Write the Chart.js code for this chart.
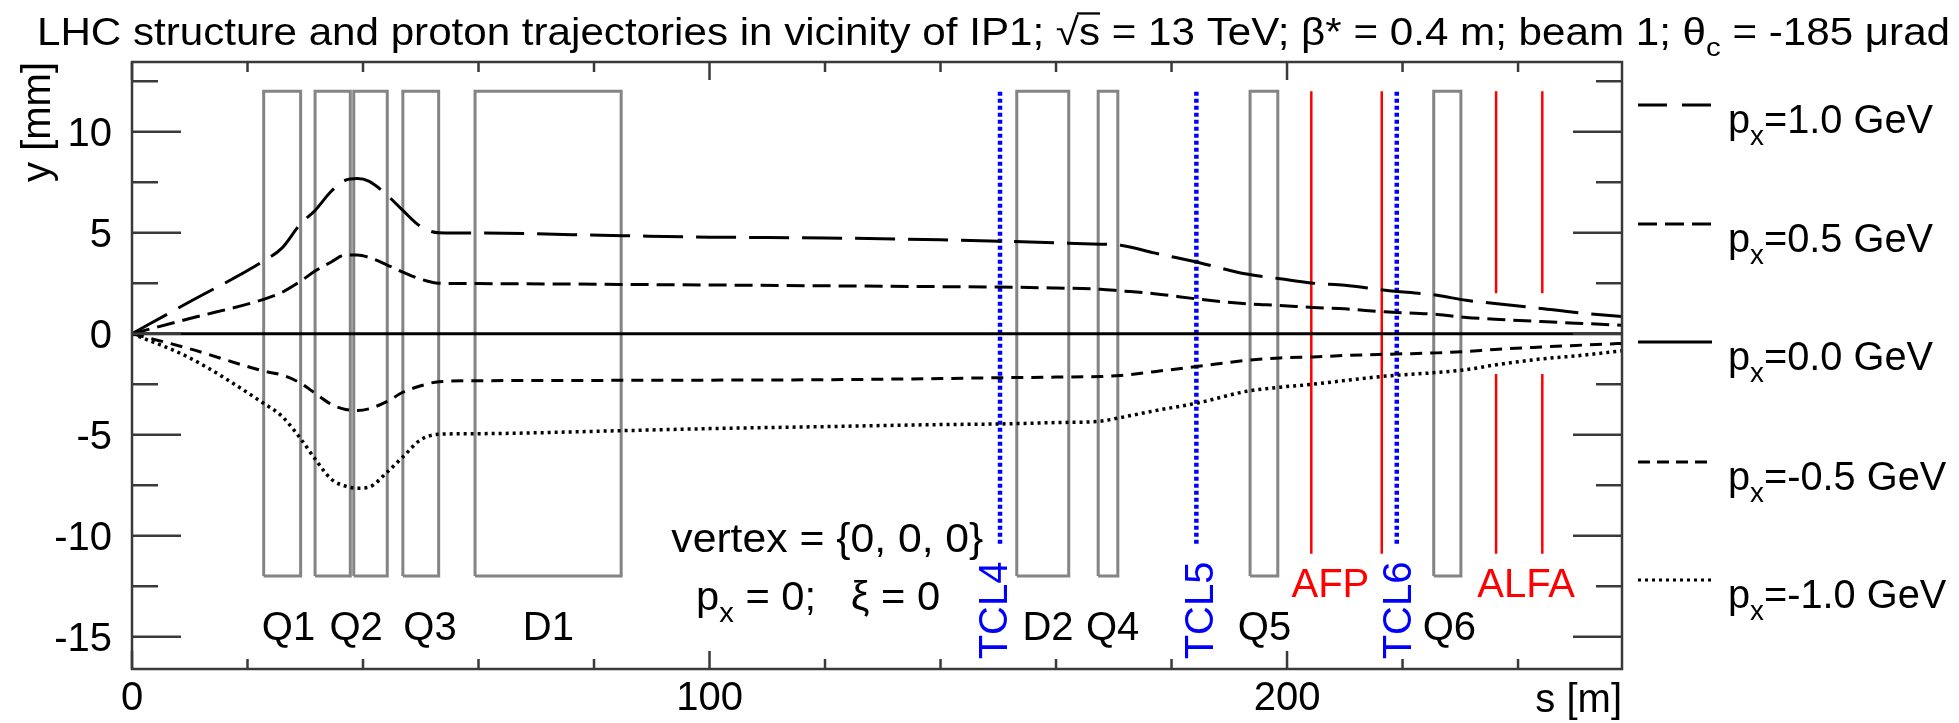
<!DOCTYPE html>
<html>
<head>
<meta charset="utf-8">
<title>LHC structure and proton trajectories</title>
<script src="https://cdn.jsdelivr.net/npm/chart.js@4.4.1/dist/chart.umd.min.js"></script>
<style>
  html, body { margin: 0; padding: 0; background: #fff; }
  #box { width: 1959px; height: 723px; }
</style>
</head>
<body>
<div id="box"><canvas id="lhcChart" width="1959" height="723"></canvas></div>
<script>
const sPoints = [0, 10, 22.8, 26, 29.2, 31.7, 34.5, 37, 39, 41,
                 44.2, 46.9, 50, 53.1, 60, 85, 100, 120, 140, 150,
                 160, 167.7, 171.2, 177, 185, 193, 198.8, 204.5, 210, 217,
                 226, 231, 236, 244, 250, 258];
// y [mm] for each px value
const yPx10 = [0, 1.58, 3.6, 4.25, 5.45, 6.1, 7.05, 7.6, 7.68, 7.55,
               6.85, 6.1, 5.3, 5.0, 4.98, 4.85, 4.78, 4.74, 4.65, 4.58,
               4.5, 4.43, 4.38, 4.0, 3.5, 2.95, 2.72, 2.5, 2.4, 2.15,
               1.9, 1.65, 1.5, 1.25, 1.05, 0.85];
const yPx05 = [0, 0.75, 1.7, 2.05, 2.6, 3.1, 3.55, 3.9, 3.9, 3.78,
               3.4, 3.05, 2.7, 2.5, 2.48, 2.44, 2.41, 2.37, 2.33, 2.31,
               2.26, 2.2, 2.12, 1.98, 1.7, 1.48, 1.4, 1.3, 1.23, 1.08,
               0.95, 0.8, 0.72, 0.6, 0.52, 0.42];
const sFlat = [0, 258];
const yPx00 = [0, 0];
const yPxM05 = [0, -0.75, -1.85, -2.05, -2.45, -2.95, -3.5, -3.75, -3.8, -3.72,
                -3.35, -2.9, -2.58, -2.38, -2.33, -2.31, -2.3, -2.28, -2.22, -2.18,
                -2.15, -2.12, -2.07, -1.88, -1.6, -1.32, -1.2, -1.15, -1.08, -1.02,
                -0.95, -0.88, -0.78, -0.66, -0.58, -0.48];
const yPxM10 = [0, -1.2, -3.45, -4.1, -5.2, -6.2, -7.2, -7.55, -7.65, -7.6,
                -6.85, -6.1, -5.25, -4.98, -4.95, -4.8, -4.7, -4.6, -4.5, -4.47,
                -4.4, -4.33, -4.15, -3.82, -3.4, -2.85, -2.65, -2.5, -2.32, -2.1,
                -1.92, -1.78, -1.55, -1.25, -1.1, -0.85];
const pxLabels = ['1.0', '0.5', '0.0', '-0.5', '-1.0'];

// beam line elements
const magnetStart = [22.8, 31.7, 38.4, 46.9, 59.4, 153.2, 167.3, 193.6, 225.4];
const magnetEnd   = [29.2, 37.8, 44.2, 53.1, 84.7, 162.2, 170.7, 198.4, 230.1];
const magnetHalf = 12;
const magnetNames = ['Q1', 'Q2', 'Q3', 'D1', 'D2', 'Q4', 'Q5', 'Q6'];
const magnetNameS = [27.1, 38.8, 51.6, 72.1, 158.6, 169.8, 196.1, 228.1];
const tclNames = ['TCL4', 'TCL5', 'TCL6'];
const tclS = [150.3, 184.3, 219.0];
const tclNameS = [149.0, 184.7, 219.1];
const tclRange = [-10.4, 12];
const afpS = [204.2, 216.4];
const alfaS = [236.2, 244.2];
const rpRange = [-10.9, 12];
const alfaGap = [-2, 2];
const afpNameS = 207.5;
const alfaNameS = 241.4;

// axes
const xRange = [0, 258];
const yRange = [-16.6, 13.45];
const xTicks = [0, 100, 200];
const xMinorTicks = [20, 40, 60, 80, 120, 140, 160, 180, 220, 240];
const yTicks = [-15, -10, -5, 0, 5, 10];
const yMinorTicks = [-12.5, -7.5, -2.5, 2.5, 7.5, 12.5];

const FONT = '"Liberation Sans", Arial, Helvetica, sans-serif';
const lineDash = [[40, 13], [18, 8], [], [12, 8], [3, 4]];
const legendDash = [[29, 15], [19, 8], [], [12, 7], [3, 4]];

const pts = (xs, ys) => xs.map((s, i) => ({ x: s, y: ys[i] }));

const trajectories = [yPx10, yPx05, yPx00, yPxM05, yPxM10].map((ys, i) => ({
    label: 'px=' + pxLabels[i] + ' GeV',
    data: i === 2 ? pts(sFlat, ys) : pts(sPoints, ys),
    borderColor: '#000',
    borderWidth: i === 4 ? 3.5 : 3,
    borderDash: lineDash[i],
    cubicInterpolationMode: 'monotone'
}));

const magnets = magnetStart.map((a, i) => ({
    label: 'magnet',
    data: [{ x: a, y: -magnetHalf }, { x: a, y: magnetHalf }, { x: magnetEnd[i], y: magnetHalf },
           { x: magnetEnd[i], y: -magnetHalf }, { x: a, y: -magnetHalf }],
    borderColor: '#848484',
    borderWidth: 3,
    borderJoinStyle: 'miter'
}));

const collimators = tclS.map(s => ({
    label: 'tcl',
    data: [{ x: s, y: tclRange[0] }, { x: s, y: tclRange[1] }],
    borderColor: '#0000ff',
    borderWidth: 4.5,
    borderDash: [4, 3]
}));

const afp = afpS.map(s => ({
    label: 'afp',
    data: [{ x: s, y: rpRange[0] }, { x: s, y: rpRange[1] }],
    borderColor: '#ff0000',
    borderWidth: 2.5
}));

const alfa = alfaS.map(s => ({
    label: 'alfa',
    data: [{ x: s, y: rpRange[0] }, { x: s, y: alfaGap[0] }, { x: s, y: null },
           { x: s, y: alfaGap[1] }, { x: s, y: rpRange[1] }],
    borderColor: '#ff0000',
    borderWidth: 2.5,
    spanGaps: false
}));

// text pieces with subscripts, optionally fitted to a width
function richWidth(ctx, parts, size) {
    let w = 0;
    parts.forEach(p => {
        ctx.font = (p.sub ? size * 0.7 : size) + 'px ' + FONT;
        w += ctx.measureText(p.t).width;
    });
    return w;
}

function drawRich(ctx, parts, x, y, size, color, align, sx, fitWidth) {
    ctx.save();
    const w0 = richWidth(ctx, parts, size);
    if (fitWidth) sx = fitWidth / w0;
    const w = w0 * sx;
    const x0 = align === 'center' ? x - w / 2 : align === 'right' ? x - w : x;
    ctx.translate(x0, y);
    ctx.scale(sx, 1);
    ctx.fillStyle = color;
    ctx.textAlign = 'left';
    ctx.textBaseline = 'alphabetic';
    let cx = 0;
    parts.forEach(p => {
        const fs = p.sub ? size * 0.7 : size;
        ctx.font = fs + 'px ' + FONT;
        const pw = ctx.measureText(p.t).width;
        ctx.fillText(p.t, cx, p.sub ? size * 0.3 : 0);
        if (p.over) ctx.fillRect(cx - size * 0.05, -size * 0.86, pw + size * 0.05, size * 0.06);
        cx += pw;
    });
    ctx.restore();
    return sx;
}

const SIZE = 40;

const rootStyle = {
    id: 'rootStyle',
    afterDraw(chart) {
        const { ctx, chartArea: a, scales: { x, y } } = chart;
        ctx.save();

        // frame and inward ticks on all four sides
        ctx.strokeStyle = '#3a3a3a';
        ctx.lineWidth = 2.5;
        ctx.strokeRect(a.left, a.top, a.right - a.left, a.bottom - a.top);
        ctx.beginPath();
        const xTick = (v, len) => {
            const px = x.getPixelForValue(v);
            ctx.moveTo(px, a.bottom); ctx.lineTo(px, a.bottom - len);
            ctx.moveTo(px, a.top); ctx.lineTo(px, a.top + len);
        };
        const yTick = (v, len) => {
            const py = y.getPixelForValue(v);
            ctx.moveTo(a.left, py); ctx.lineTo(a.left + len, py);
            ctx.moveTo(a.right, py); ctx.lineTo(a.right - len, py);
        };
        xTicks.forEach(v => xTick(v, 18));
        xMinorTicks.forEach(v => xTick(v, 10));
        yTicks.forEach(v => yTick(v, 49));
        yMinorTicks.forEach(v => yTick(v, 26));
        ctx.stroke();

        // tick labels
        xTicks.forEach(v => drawRich(ctx, [{ t: String(v) }], x.getPixelForValue(v), 710, SIZE, '#000', 'center', 1));
        yTicks.forEach(v => drawRich(ctx, [{ t: String(v) }], a.left - 20, y.getPixelForValue(v) + 14, SIZE, '#000', 'right', 1));

        // axis titles
        drawRich(ctx, [{ t: 's [m]' }], a.right, 712, SIZE, '#000', 'right', 1);
        ctx.save();
        ctx.translate(50, a.top);
        ctx.rotate(-Math.PI / 2);
        drawRich(ctx, [{ t: 'y [mm]' }], 0, 0, SIZE, '#000', 'right', 1);
        ctx.restore();

        // title
        drawRich(ctx, [
            { t: 'LHC structure and proton trajectories in vicinity of IP1; ' },
            { t: '\u221A' }, { t: 's', over: true },
            { t: ' = 13 TeV; \u03B2* = 0.4 m; beam 1; \u03B8' }, { t: 'c', sub: true },
            { t: ' = -185 \u03BCrad' }
        ], 37, 45, 38, '#000', 'left', 1, 1913);

        // element names
        const yMag = y.getPixelForValue(-14.45) + 14;
        magnetNames.forEach((n, i) => drawRich(ctx, [{ t: n }], x.getPixelForValue(magnetNameS[i]), yMag, SIZE, '#000', 'center', 1));
        const yRp = y.getPixelForValue(-12.35) + 14;
        drawRich(ctx, [{ t: 'AFP' }], x.getPixelForValue(afpNameS), yRp, SIZE, '#ff0000', 'center', 1);
        drawRich(ctx, [{ t: 'ALFA' }], x.getPixelForValue(alfaNameS), yRp, SIZE, '#ff0000', 'center', 1);
        tclNames.forEach((n, i) => {
            ctx.save();
            ctx.translate(x.getPixelForValue(tclNameS[i]) + 14, y.getPixelForValue(-13.7));
            ctx.rotate(-Math.PI / 2);
            drawRich(ctx, [{ t: n }], 0, 0, SIZE, '#0000ff', 'center', 1);
            ctx.restore();
        });

        // vertex info
        drawRich(ctx, [{ t: 'vertex = {0, 0, 0}' }], x.getPixelForValue(120.4), y.getPixelForValue(-10.1) + 14, SIZE, '#000', 'center', 1, 312);
        drawRich(ctx, [{ t: 'p' }, { t: 'x', sub: true }, { t: ' = 0;   \u03BE = 0' }], x.getPixelForValue(118.8), y.getPixelForValue(-13.0) + 14, SIZE, '#000', 'center', 1, 244);

        // legend outside the frame, on the right
        const rowY = [105, 224, 342, 462, 580];
        let lsx = null;
        pxLabels.forEach((p, i) => {
            ctx.save();
            ctx.strokeStyle = '#000';
            ctx.lineWidth = 3;
            ctx.setLineDash(legendDash[i]);
            ctx.beginPath();
            ctx.moveTo(1638, rowY[i]);
            ctx.lineTo(1712, rowY[i]);
            ctx.stroke();
            ctx.restore();
            const parts = [{ t: 'p' }, { t: 'x', sub: true }, { t: '=' + p + ' GeV' }];
            if (lsx === null) lsx = drawRich(ctx, parts, 1728, rowY[i] + 28, SIZE, '#000', 'left', 1, 205);
            else drawRich(ctx, parts, 1728, rowY[i] + 28, SIZE, '#000', 'left', lsx);
        });

        ctx.restore();
    }
};

new Chart(document.getElementById('lhcChart').getContext('2d'), {
    type: 'scatter',
    data: { datasets: [...trajectories, ...collimators, ...afp, ...alfa, ...magnets] },
    options: {
        responsive: false,
        animation: false,
        showLine: true,
        layout: { padding: { left: 132, top: 62, right: 337, bottom: 54 } },
        elements: { point: { radius: 0, hoverRadius: 0 }, line: { fill: false, borderCapStyle: 'butt' } },
        plugins: { legend: { display: false }, tooltip: { enabled: false } },
        scales: {
            x: { type: 'linear', min: xRange[0], max: xRange[1], display: false },
            y: { type: 'linear', min: yRange[0], max: yRange[1], display: false }
        }
    },
    plugins: [rootStyle]
});
</script>
</body>
</html>
